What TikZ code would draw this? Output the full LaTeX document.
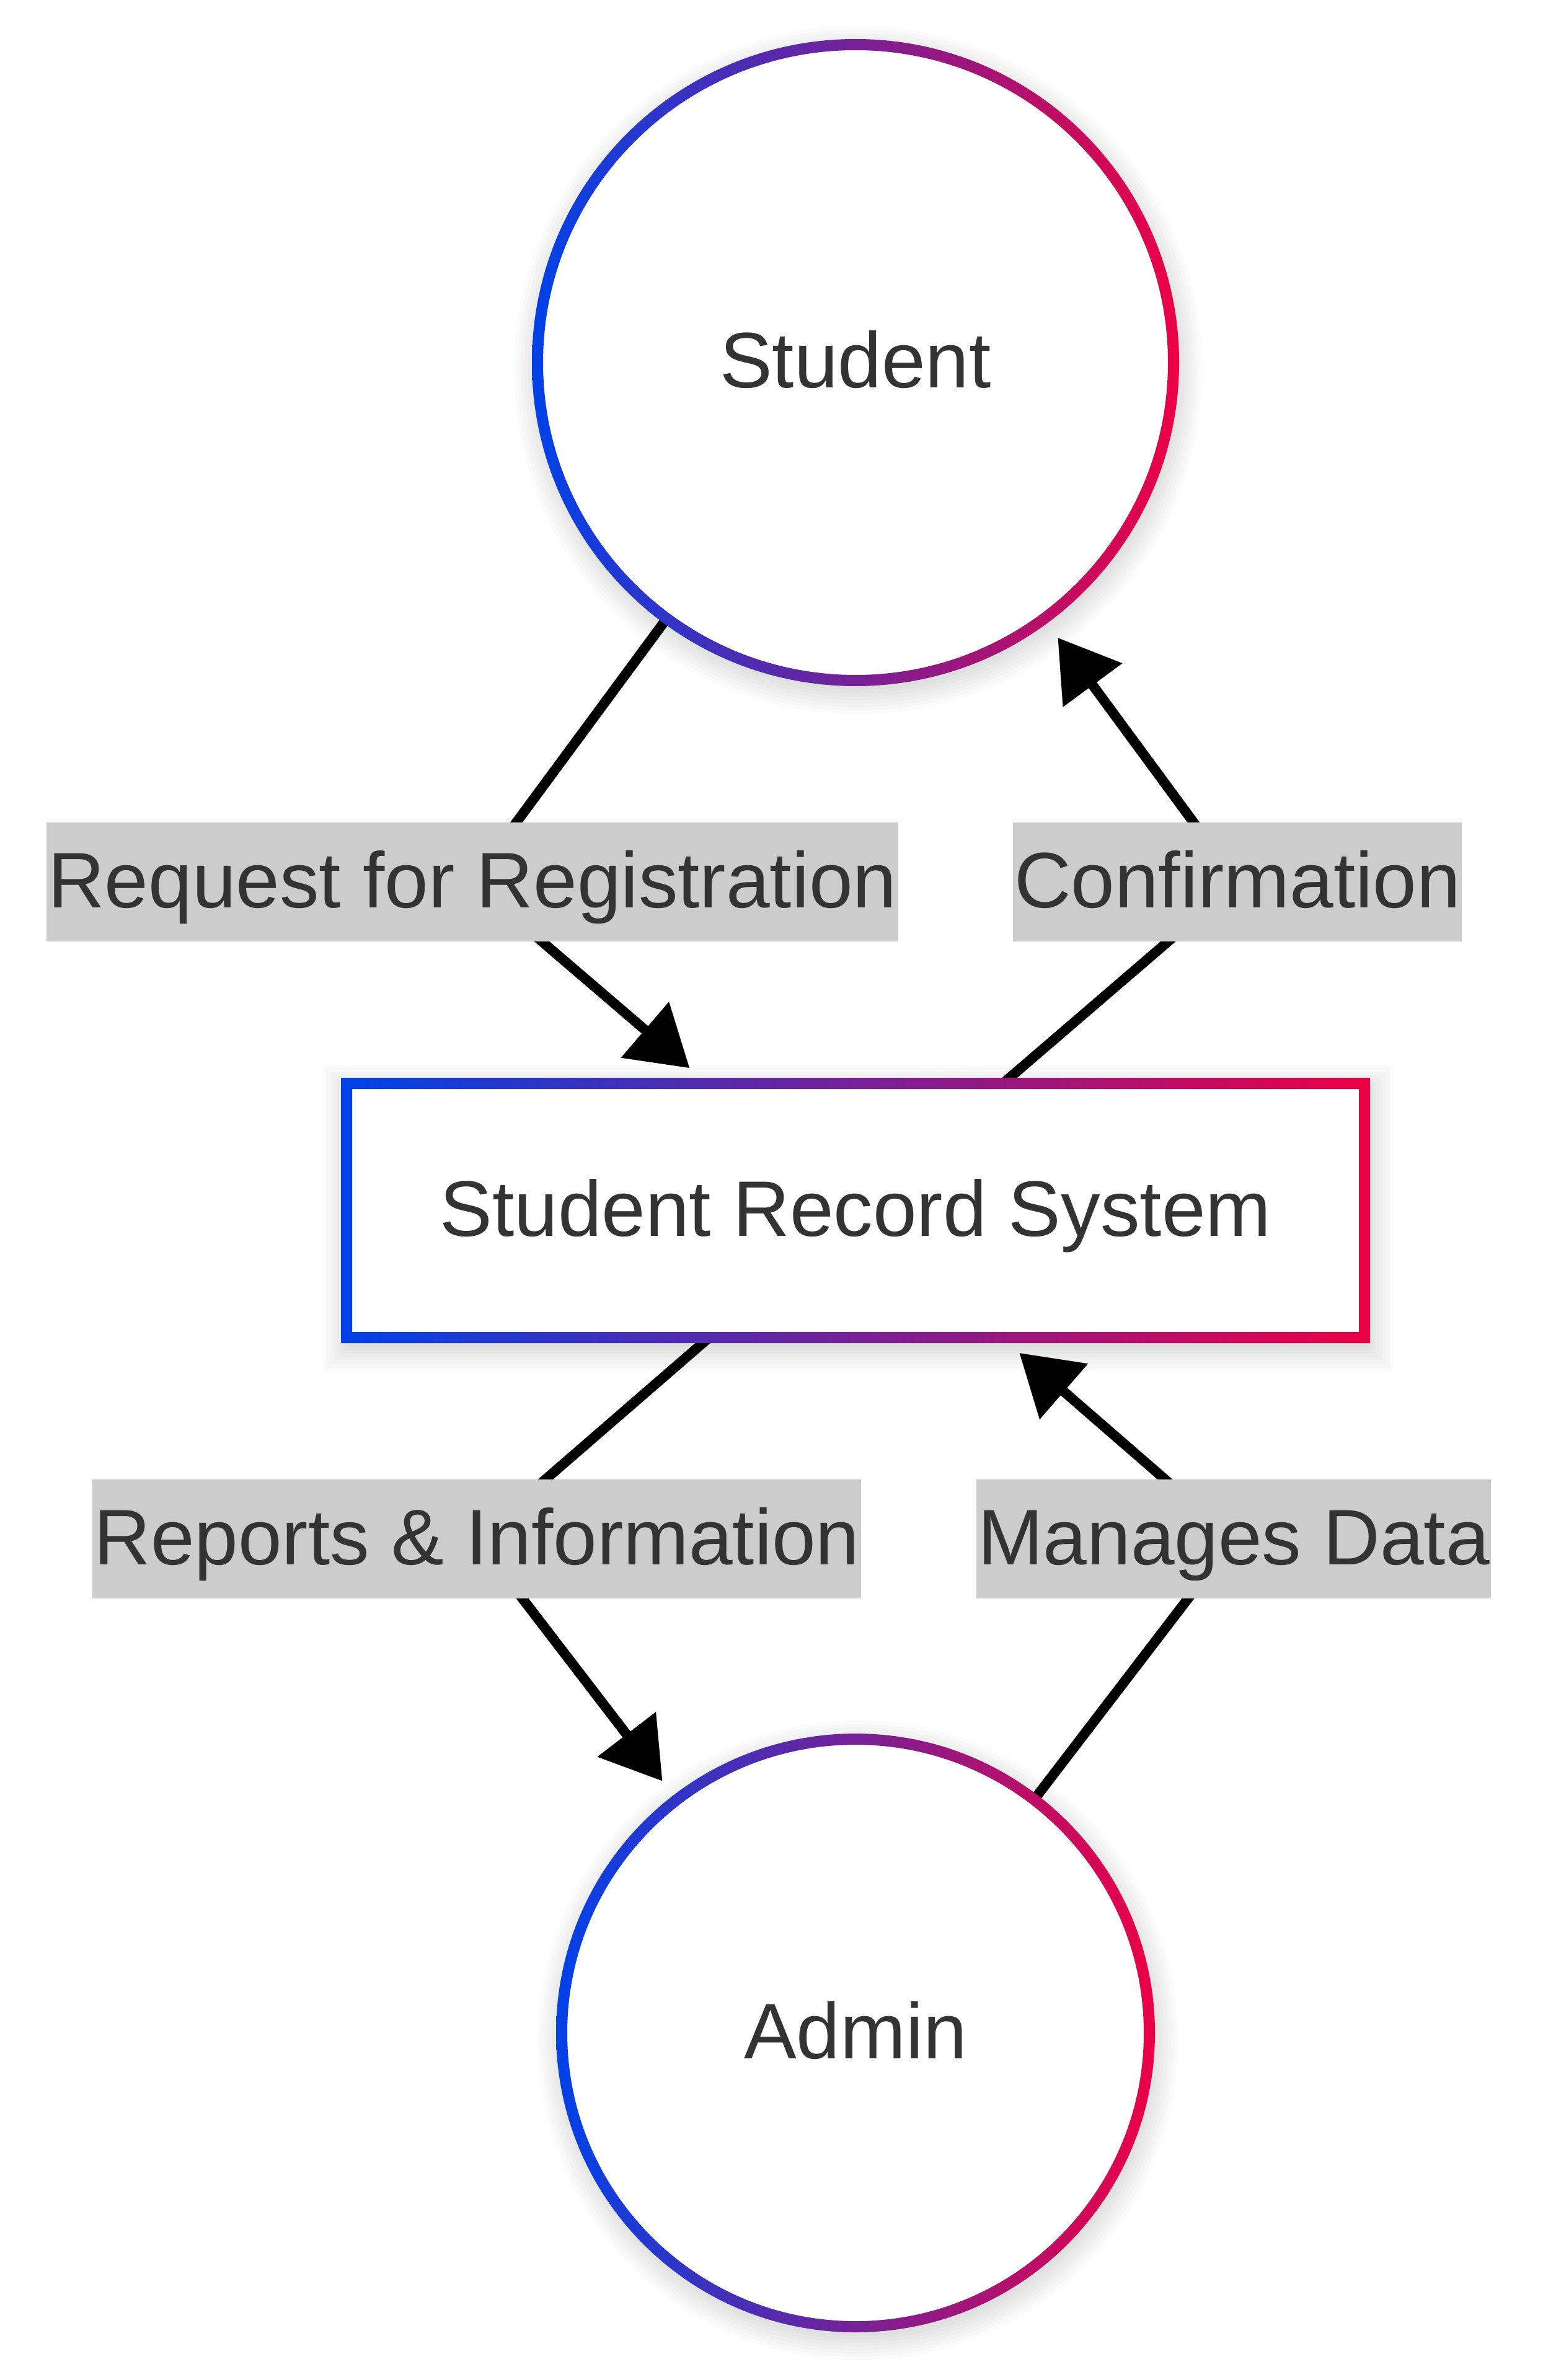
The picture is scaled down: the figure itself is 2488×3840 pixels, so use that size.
\documentclass[tikz,border=0pt]{standalone}
\usepackage{fontspec}
\setmainfont{Liberation Sans}
\usetikzlibrary{arrows.meta,calc}
\pgfdeclarelayer{bg}
\pgfdeclarelayer{shadow}
\pgfsetlayers{bg,shadow,main}
\definecolor{gblue}{RGB}{0,66,232}
\definecolor{gred}{RGB}{236,0,69}
\definecolor{txtc}{RGB}{51,51,51}
\definecolor{lblbg}{RGB}{204,204,204}
\begin{document}
\begin{tikzpicture}[x=0.25pt,y=-0.25pt,
  every node/.style={font=\fontsize{31.75pt}{38pt}\selectfont, text=txtc, text height=26pt, text depth=5.5pt},
  entity/.style={circle, fill=white, inner sep=0pt, outer sep=0pt},
  proc/.style={rectangle, fill=white, inner sep=0pt, outer sep=0pt, minimum width=410.5pt, minimum height=102.5pt},
  elabel/.style={fill=lblbg, inner xsep=0.5pt, inner ysep=0pt, minimum height=48pt},
  flow/.style={line width=4pt, draw=black},
  arr/.style={flow, -{Triangle[length=23.75pt,width=28.75pt]}, shorten >=9.5pt},
  ring/.style={left color=gblue, right color=gred, even odd rule},
]
\useasboundingbox (0,0) rectangle (2488,3840);
\begin{pgfonlayer}{bg}
\fill[white] (0,0) rectangle (2488,3840);
\end{pgfonlayer}

% nodes
\node[entity, minimum size=256.5pt] (student) at (1380,585) {Student};
\node[proc] (srs) at (1380,1953) {Student Record System};
\node[entity, minimum size=237pt] (admin) at (1380,3280) {Admin};

% gradient borders
\shade[ring] (student.center) circle[radius=130.5pt] (student.center) circle[radius=126pt];
\shade[ring] (admin.center) circle[radius=120.75pt] (admin.center) circle[radius=116.25pt];
\shade[ring] ($(srs.north west)+(-9,-9)$) rectangle ($(srs.south east)+(9,9)$)
             ($(srs.north west)+(9,9)$) rectangle ($(srs.south east)+(-9,-9)$);

% soft shadows
\begin{pgfonlayer}{shadow}
\foreach \k in {0,...,7}{
  \fill[black, opacity=0.016] ($(student.center)+(4,12)$) circle[radius={129pt+\k*1.4pt}];
  \fill[black, opacity=0.016] ($(admin.center)+(4,12)$) circle[radius={119.25pt+\k*1.4pt}];
  \fill[black, opacity=0.016] ($(srs.north west)+(4-3-5.6*\k,12-3-5.6*\k)$) rectangle ($(srs.south east)+(4+3+5.6*\k,12+3+5.6*\k)$);
}
\end{pgfonlayer}

% edge labels
\node[elabel] (l1) at (762,1423) {Request for Registration};
\node[elabel] (l2) at (1996,1423) {Confirmation};
\node[elabel] (l3) at (769,2483) {Reports \& Information};
\node[elabel] (l4) at (1990,2483) {Manages Data};

% edges
\begin{pgfonlayer}{shadow}
\draw[flow] (student) -- (l1.center);
\draw[arr] (l1.center) -- (srs);
\draw[flow] (srs) -- (l2.center);
\draw[arr] (l2.center) -- (student);
\draw[flow] (srs) -- (l3.center);
\draw[arr] (l3.center) -- (admin);
\draw[flow] (admin) -- (l4.center);
\draw[arr] (l4.center) -- (srs);
\end{pgfonlayer}
\end{tikzpicture}
\end{document}
